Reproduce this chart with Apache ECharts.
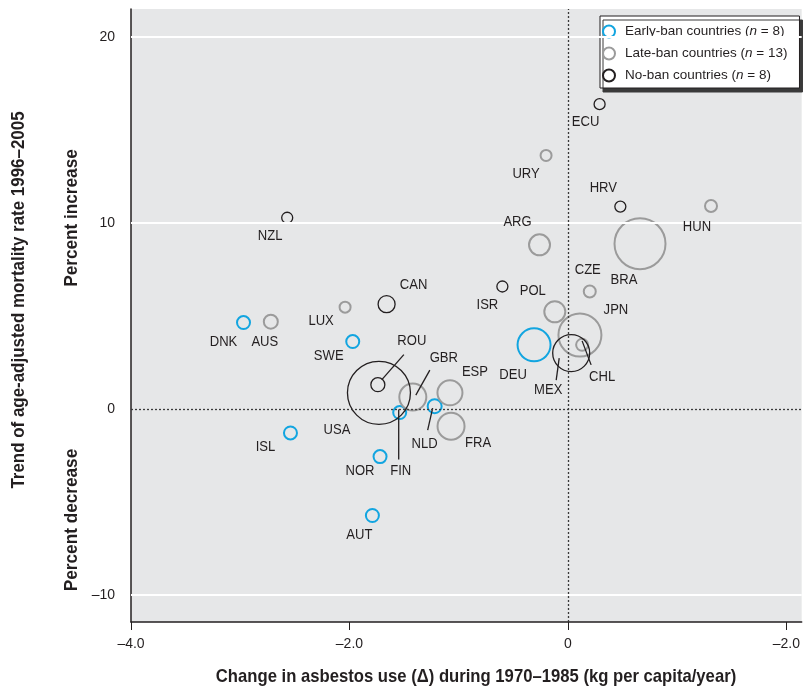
<!DOCTYPE html>
<html><head><meta charset="utf-8">
<script src="https://cdn.jsdelivr.net/npm/echarts@6/dist/echarts.min.js"></script>
<style>html,body{margin:0;padding:0;background:#fff}#c{width:803px;height:688px}</style>
</head><body><div id="c"></div>
<script>
const FONT = "'Liberation Sans','Arimo','DejaVu Sans',sans-serif";

// ---- data ----
const xTicks = [-4, -2, 0, 2];
const yTicks = [-10, 0, 10, 20];

const earlyCountries = ['DNK','SWE','ISL','FIN','NOR','NLD','AUT','DEU'];
const earlyX = [-2.97, -1.97, -2.54, -1.54, -1.72, -1.22, -1.79, -0.31];
const earlyY = [4.64, 3.62, -1.30, -0.20, -2.57, 0.14, -5.74, 3.44];
const earlyBubble = [13, 13, 13, 13, 13, 14, 13, 33];

const lateCountries = ['AUS','LUX','GBR','ESP','FRA','URY','ARG','POL','CZE','JPN','CHL','BRA','HUN'];
const lateX = [-2.72, -2.04, -1.42, -1.08, -1.07, -0.20, -0.26, -0.12, 0.20, 0.11, 0.13, 0.66, 1.31];
const lateY = [4.69, 5.47, 0.63, 0.86, -0.94, 13.63, 8.82, 5.22, 6.31, 3.97, 3.44, 8.88, 10.91];
const lateBubble = [14, 11, 27, 25, 27, 11, 21, 21, 12, 43, 12, 51, 12];

const noCountries = ['NZL','CAN','ROU','USA','ISR','ECU','HRV','MEX'];
const noX = [-2.57, -1.66, -1.74, -1.73, -0.60, 0.29, 0.48, 0.03];
const noY = [10.28, 5.63, 1.30, 0.86, 6.58, 16.39, 10.88, 3.00];
const noBubble = [11, 17, 14, 63, 11, 11, 11, 37];

const groupNames = ['Early-ban countries', 'Late-ban countries', 'No-ban countries'];

// ---- layout / style (label placement in px relative to the point) ----
const labelOffset = {
  DNK:[-20,19], AUS:[-6,20], LUX:[-24,14], SWE:[-24,14], NZL:[-17,18], CAN:[27,-19],
  ROU:[34,-44], GBR:[31,-39], ESP:[25,-21], FRA:[27,17], NLD:[-10,38], FIN:[1,58],
  USA:[-42,37], ISL:[-25,14], NOR:[-20,14], AUT:[-13,20], ISR:[-15,18], POL:[-22,-21],
  ARG:[-22,-23], URY:[-20,19], ECU:[-14,18], HRV:[-17,-19], HUN:[-14,21], CZE:[-2,-22],
  BRA:[-16,36], JPN:[36,-25], DEU:[-21,30], MEX:[-23,37], CHL:[20,32]
};
const leader = {
  ROU:[4,-5,26,-30], GBR:[3,-2,17,-27], NLD:[-2,2,-7,24], FIN:[-1,-3,-1,47],
  MEX:[-15,27,-12,5], CHL:[9,20,0,-4]
};
const COLORS = ['#12a5e0', '#9b9b9b', '#231f20'];
const WIDTHS = [2, 2, 1.3];
const TXT = '#231f20';

function makeSeries(idx, countries, xs, ys, bubbles) {
  return {
    name: groupNames[idx], type: 'scatter', z: 3,
    data: countries.map((c, i) => ({ name: c, value: [xs[i], ys[i], bubbles[i]] })),
    symbol: 'circle',
    symbolSize: v => v[2],
    itemStyle: { color: 'rgba(0,0,0,0)', borderColor: COLORS[idx], borderWidth: WIDTHS[idx], opacity: 1 },
    label: { show: false },
    emphasis: { disabled: true },
    silent: true
  };
}

const allC = [].concat(earlyCountries, lateCountries, noCountries);
const allX = [].concat(earlyX, lateX, noX);
const allY = [].concat(earlyY, lateY, noY);
const labelData = allC.map((c, i) => ({ name: c, value: [allX[i], allY[i]] }));
const leaderData = labelData.filter(d => leader[d.name]);

const counts = [earlyCountries.length, lateCountries.length, noCountries.length];

const gridLines = yTicks.map(v => v === 0
  ? { yAxis: v, lineStyle: { color: '#3a3a3a', width: 1.3, type: [2, 2] } }
  : { yAxis: v, lineStyle: { color: '#ffffff', width: 2, type: 'solid' } });
gridLines.push({ xAxis: 0, lineStyle: { color: '#3a3a3a', width: 1.3, type: [2, 2] } });

function titleText(x, y, rot, text, size, sx) {
  return { type: 'text', x: x, y: y, rotation: rot, scaleX: sx, silent: true,
    style: { text: text, fontFamily: FONT, fontWeight: 'bold', fontSize: size, fill: TXT, align: 'center', verticalAlign: 'middle' } };
}

const chart = echarts.init(document.getElementById('c'), null, { renderer: 'canvas' });
chart.setOption({
  animation: false,
  backgroundColor: '#ffffff',
  grid: { left: 131, right: 0, top: 9, bottom: 66, show: true, backgroundColor: '#e6e7e8', borderWidth: 0 },
  xAxis: {
    type: 'value', min: -4, max: 2.14,
    axisLine: { onZero: false, lineStyle: { color: TXT, width: 1.5 } },
    axisTick: { customValues: xTicks, length: 8, lineStyle: { color: TXT, width: 1 } },
    axisLabel: { customValues: xTicks, margin: 15, color: TXT, fontFamily: FONT, fontSize: 14,
      formatter: v => v === 0 ? '0' : '\u2013' + Math.abs(v).toFixed(1) },
    splitLine: { show: false }
  },
  yAxis: {
    type: 'value', min: -11.47, max: 21.51,
    axisLine: { onZero: false, lineStyle: { color: TXT, width: 1.5 } },
    axisTick: { show: false },
    axisLabel: { customValues: yTicks, margin: 16, color: TXT, fontFamily: FONT, fontSize: 14,
      formatter: v => v < 0 ? '\u2013' + Math.abs(v) : String(v) },
    splitLine: { show: false }
  },
  legend: {
    orient: 'vertical', left: 600, top: 16, selectedMode: false,
    itemWidth: 22, itemHeight: 12, itemGap: 7,
    padding: [8, 12, 5, 2],
    backgroundColor: '#ffffff', borderColor: TXT, borderWidth: 1,
    shadowColor: '#3a3a3a', shadowBlur: 0, shadowOffsetX: 3, shadowOffsetY: 4,
    data: groupNames.map((n, i) => ({ name: n, icon: 'circle',
      itemStyle: { color: 'rgba(0,0,0,0)', borderColor: COLORS[i], borderWidth: 2 } })),
    formatter: name => {
      const k = groupNames.indexOf(name);
      return '{t|' + name + ' (}{i|n}{t| = ' + counts[k] + ')}';
    },
    textStyle: {
      color: TXT, fontFamily: FONT, fontSize: 13.5, lineHeight: 15,
      rich: { t: { color: TXT, fontFamily: FONT, fontSize: 13.5, lineHeight: 15 },
              i: { color: TXT, fontFamily: FONT, fontSize: 13.5, lineHeight: 15, fontStyle: 'italic' } }
    }
  },
  graphic: [
    titleText(19, 300, Math.PI / 2, 'Trend of age-adjusted mortality rate 1996\u20132005', 18, 0.94),
    titleText(72, 218, Math.PI / 2, 'Percent increase', 18, 0.955),
    titleText(72, 520, Math.PI / 2, 'Percent decrease', 18, 0.955),
    titleText(476, 677, 0, 'Change in asbestos use (\u0394) during 1970\u20131985 (kg per capita/year)', 19, 0.877)
  ],
  series: [
    { type: 'scatter', data: [], z: 1, silent: true,
      markLine: { silent: true, symbol: ['none', 'none'], label: { show: false }, animation: false, data: gridLines } },
    makeSeries(0, earlyCountries, earlyX, earlyY, earlyBubble),
    makeSeries(1, lateCountries, lateX, lateY, lateBubble),
    makeSeries(2, noCountries, noX, noY, noBubble),
    { type: 'custom', z: 4, silent: true, data: leaderData, encode: { x: 0, y: 1 },
      renderItem: (params, api) => {
        const p = api.coord([api.value(0), api.value(1)]);
        const o = leader[leaderData[params.dataIndex].name];
        return { type: 'line', shape: { x1: p[0] + o[0], y1: p[1] + o[1], x2: p[0] + o[2], y2: p[1] + o[3] },
          style: { stroke: TXT, lineWidth: 1.3 } };
      } },
    { type: 'custom', z: 5, silent: true, data: labelData, encode: { x: 0, y: 1 },
      renderItem: (params, api) => {
        const p = api.coord([api.value(0), api.value(1)]);
        const nm = labelData[params.dataIndex].name;
        const o = labelOffset[nm];
        return { type: 'text', x: p[0] + o[0], y: p[1] + o[1], scaleX: 0.9,
          style: { text: nm, fontFamily: FONT, fontSize: 14.5, fill: TXT, align: 'center', verticalAlign: 'middle' } };
      } }
  ]
});
</script>
</body></html>
